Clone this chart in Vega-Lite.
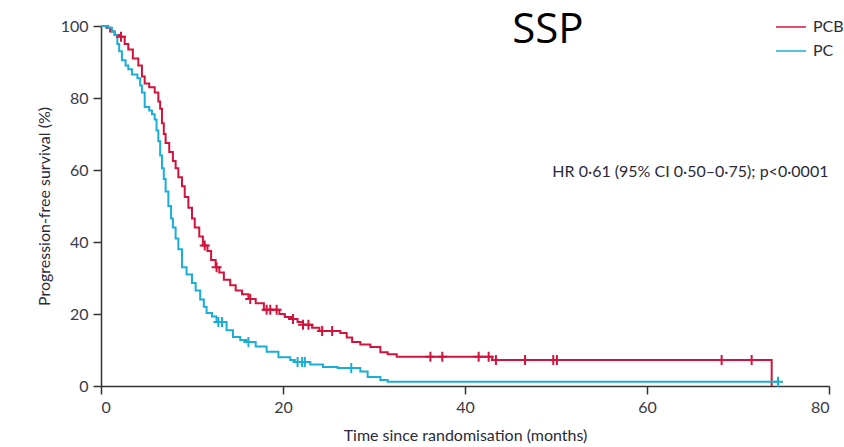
{
  "$schema": "https://vega.github.io/schema/vega-lite/v6.json",
  "width": 728,
  "height": 360,
  "autosize": {"type": "none"},
  "padding": {"left": 101, "top": 26, "right": 15, "bottom": 61},
  "background": "white",
  "config": {
    "view": {"stroke": null},
    "font": "Lato",
    "axis": {
      "grid": false,
      "domainColor": "#333333",
      "domainWidth": 1.5,
      "tickColor": "#333333",
      "tickWidth": 1.5,
      "tickSize": 8,
      "labelFont": "Lato",
      "labelFontSize": 16,
      "labelColor": "#3a3a48",
      "titleFont": "Lato",
      "titleFontSize": 16,
      "titleFontWeight": "normal",
      "titleColor": "#2a2a38"
    }
  },
  "datasets": {
    "curve": [
      {"arm": "PCB", "t": 0, "s": 100}, {"arm": "PCB", "t": 0.6, "s": 99.5}, {"arm": "PCB", "t": 1.0, "s": 98.5}, {"arm": "PCB", "t": 1.5, "s": 97.5}, {"arm": "PCB", "t": 2.2, "s": 97},
      {"arm": "PCB", "t": 2.6, "s": 95}, {"arm": "PCB", "t": 3.0, "s": 93.5}, {"arm": "PCB", "t": 3.5, "s": 91}, {"arm": "PCB", "t": 4.1, "s": 89}, {"arm": "PCB", "t": 4.5, "s": 86},
      {"arm": "PCB", "t": 4.8, "s": 84}, {"arm": "PCB", "t": 5.3, "s": 83}, {"arm": "PCB", "t": 5.9, "s": 81.5}, {"arm": "PCB", "t": 6.3, "s": 79}, {"arm": "PCB", "t": 6.5, "s": 77},
      {"arm": "PCB", "t": 6.7, "s": 73}, {"arm": "PCB", "t": 6.9, "s": 70}, {"arm": "PCB", "t": 7.1, "s": 67.5}, {"arm": "PCB", "t": 7.5, "s": 65}, {"arm": "PCB", "t": 7.9, "s": 62.5},
      {"arm": "PCB", "t": 8.2, "s": 60.5}, {"arm": "PCB", "t": 8.5, "s": 58}, {"arm": "PCB", "t": 8.9, "s": 55.5}, {"arm": "PCB", "t": 9.2, "s": 52.5}, {"arm": "PCB", "t": 9.6, "s": 49.5},
      {"arm": "PCB", "t": 10.0, "s": 46.5}, {"arm": "PCB", "t": 10.3, "s": 44}, {"arm": "PCB", "t": 10.8, "s": 41.5}, {"arm": "PCB", "t": 11.2, "s": 39}, {"arm": "PCB", "t": 11.7, "s": 37.5},
      {"arm": "PCB", "t": 12.1, "s": 35}, {"arm": "PCB", "t": 12.6, "s": 33}, {"arm": "PCB", "t": 13.0, "s": 31.5}, {"arm": "PCB", "t": 13.5, "s": 29.5}, {"arm": "PCB", "t": 14.2, "s": 28},
      {"arm": "PCB", "t": 14.8, "s": 26.5}, {"arm": "PCB", "t": 15.5, "s": 25.5}, {"arm": "PCB", "t": 16.2, "s": 24.2}, {"arm": "PCB", "t": 17.0, "s": 23}, {"arm": "PCB", "t": 17.9, "s": 21.2},
      {"arm": "PCB", "t": 19.6, "s": 20}, {"arm": "PCB", "t": 20.2, "s": 19.2}, {"arm": "PCB", "t": 21.0, "s": 18.6}, {"arm": "PCB", "t": 21.6, "s": 17.8}, {"arm": "PCB", "t": 22.2, "s": 17},
      {"arm": "PCB", "t": 23.2, "s": 16.2}, {"arm": "PCB", "t": 24.0, "s": 15.3}, {"arm": "PCB", "t": 26.3, "s": 14.7}, {"arm": "PCB", "t": 27.0, "s": 13.5}, {"arm": "PCB", "t": 27.6, "s": 12.2},
      {"arm": "PCB", "t": 28.5, "s": 11.5}, {"arm": "PCB", "t": 29.6, "s": 10.8}, {"arm": "PCB", "t": 30.7, "s": 9.4}, {"arm": "PCB", "t": 31.5, "s": 8.8}, {"arm": "PCB", "t": 32.5, "s": 8.1},
      {"arm": "PCB", "t": 43.0, "s": 7.2}, {"arm": "PCB", "t": 73.7, "s": 0},
      {"arm": "PC", "t": 0, "s": 100}, {"arm": "PC", "t": 0.8, "s": 99.5}, {"arm": "PC", "t": 1.2, "s": 98.5}, {"arm": "PC", "t": 1.5, "s": 97.5}, {"arm": "PC", "t": 1.8, "s": 95},
      {"arm": "PC", "t": 2.0, "s": 93}, {"arm": "PC", "t": 2.3, "s": 90.5}, {"arm": "PC", "t": 2.7, "s": 89}, {"arm": "PC", "t": 3.0, "s": 88}, {"arm": "PC", "t": 3.4, "s": 86.5},
      {"arm": "PC", "t": 4.0, "s": 85.5}, {"arm": "PC", "t": 4.3, "s": 83.5}, {"arm": "PC", "t": 4.5, "s": 81.5}, {"arm": "PC", "t": 4.8, "s": 77.5}, {"arm": "PC", "t": 5.3, "s": 76.5},
      {"arm": "PC", "t": 5.6, "s": 75.5}, {"arm": "PC", "t": 5.9, "s": 74}, {"arm": "PC", "t": 6.1, "s": 71}, {"arm": "PC", "t": 6.3, "s": 68}, {"arm": "PC", "t": 6.5, "s": 64},
      {"arm": "PC", "t": 6.7, "s": 60.5}, {"arm": "PC", "t": 6.9, "s": 57.5}, {"arm": "PC", "t": 7.1, "s": 54}, {"arm": "PC", "t": 7.4, "s": 50}, {"arm": "PC", "t": 7.7, "s": 46.5},
      {"arm": "PC", "t": 7.9, "s": 44}, {"arm": "PC", "t": 8.2, "s": 41}, {"arm": "PC", "t": 8.5, "s": 38}, {"arm": "PC", "t": 8.9, "s": 33}, {"arm": "PC", "t": 9.4, "s": 31},
      {"arm": "PC", "t": 10.0, "s": 28.6}, {"arm": "PC", "t": 10.4, "s": 26.5}, {"arm": "PC", "t": 10.9, "s": 24}, {"arm": "PC", "t": 11.3, "s": 22}, {"arm": "PC", "t": 11.6, "s": 20.3},
      {"arm": "PC", "t": 12.2, "s": 19.3}, {"arm": "PC", "t": 12.7, "s": 17.8}, {"arm": "PC", "t": 13.8, "s": 15.5}, {"arm": "PC", "t": 14.5, "s": 13.6}, {"arm": "PC", "t": 15.3, "s": 12.8},
      {"arm": "PC", "t": 16.0, "s": 12.2}, {"arm": "PC", "t": 17.0, "s": 11}, {"arm": "PC", "t": 18.2, "s": 9.5}, {"arm": "PC", "t": 19.5, "s": 8}, {"arm": "PC", "t": 20.8, "s": 7.2},
      {"arm": "PC", "t": 21.3, "s": 6.7}, {"arm": "PC", "t": 23.0, "s": 6.0}, {"arm": "PC", "t": 24.4, "s": 5.3}, {"arm": "PC", "t": 26.0, "s": 5}, {"arm": "PC", "t": 28.5, "s": 4},
      {"arm": "PC", "t": 29.3, "s": 2.5}, {"arm": "PC", "t": 30.7, "s": 1.7}, {"arm": "PC", "t": 31.5, "s": 1.2}, {"arm": "PC", "t": 74.4, "s": 1.2}
    ],
    "cens": [
      {"arm": "PCB", "t": 2.2, "s": 97}, {"arm": "PCB", "t": 11.4, "s": 39}, {"arm": "PCB", "t": 12.7, "s": 33}, {"arm": "PCB", "t": 16.4, "s": 24.2},
      {"arm": "PCB", "t": 18.2, "s": 21.2}, {"arm": "PCB", "t": 18.6, "s": 21.2}, {"arm": "PCB", "t": 19.3, "s": 21.2}, {"arm": "PCB", "t": 21.1, "s": 18.6},
      {"arm": "PCB", "t": 22.2, "s": 17}, {"arm": "PCB", "t": 22.8, "s": 17}, {"arm": "PCB", "t": 24.3, "s": 15.3}, {"arm": "PCB", "t": 25.4, "s": 15.3},
      {"arm": "PCB", "t": 36.2, "s": 8.1}, {"arm": "PCB", "t": 37.5, "s": 8.1}, {"arm": "PCB", "t": 41.5, "s": 8.1}, {"arm": "PCB", "t": 42.6, "s": 8.1},
      {"arm": "PCB", "t": 43.4, "s": 7.2}, {"arm": "PCB", "t": 46.6, "s": 7.2}, {"arm": "PCB", "t": 49.7, "s": 7.2}, {"arm": "PCB", "t": 50.1, "s": 7.2},
      {"arm": "PCB", "t": 68.2, "s": 7.2}, {"arm": "PCB", "t": 71.5, "s": 7.2},
      {"arm": "PC", "t": 12.9, "s": 17.8}, {"arm": "PC", "t": 13.3, "s": 17.8}, {"arm": "PC", "t": 16.2, "s": 12.2}, {"arm": "PC", "t": 21.6, "s": 6.7},
      {"arm": "PC", "t": 22.1, "s": 6.7}, {"arm": "PC", "t": 22.4, "s": 6.7}, {"arm": "PC", "t": 27.5, "s": 5}, {"arm": "PC", "t": 74.4, "s": 1.2}
    ],
    "note": [
      {"t": 49.6, "s": 59.4, "label": "HR 0·61 (95% CI 0·50–0·75); p<0·0001"}
    ],
    "heading": [
      {"t": 49.1, "s": 95.3, "label": "SSP"}
    ]
  },
  "layer": [
    {
      "data": {"name": "curve"},
      "mark": {"type": "line", "interpolate": "step-after", "strokeWidth": 2},
      "encoding": {
        "x": {
          "field": "t", "type": "quantitative",
          "scale": {"domain": [0, 80], "nice": false},
          "axis": {"values": [0, 20, 40, 60, 80], "title": "Time since randomisation (months)", "labelPadding": 5, "titlePadding": 12}
        },
        "y": {
          "field": "s", "type": "quantitative",
          "scale": {"domain": [0, 100], "nice": false},
          "axis": {"values": [0, 20, 40, 60, 80, 100], "title": "Progression-free survival (%)", "labelPadding": 5, "titlePadding": 8}
        },
        "color": {
          "field": "arm", "type": "nominal",
          "scale": {"domain": ["PCB", "PC"], "range": ["#d2143c", "#1aaed4"]},
          "legend": {
            "orient": "none", "legendX": 674, "legendY": -15, "title": null,
            "symbolType": "stroke", "symbolSize": 900, "symbolStrokeWidth": 1.5,
            "labelFont": "Lato", "labelFontSize": 16, "labelColor": "#2a2a38",
            "labelOffset": 6, "rowPadding": -12
          }
        }
      }
    },
    {
      "data": {"name": "cens"},
      "mark": {"type": "point", "shape": "M-1,0L1,0M0,-1L0,1", "filled": false, "size": 100, "strokeWidth": 2, "opacity": 1},
      "encoding": {
        "x": {"field": "t", "type": "quantitative"},
        "y": {"field": "s", "type": "quantitative"},
        "color": {"field": "arm", "type": "nominal", "legend": null}
      }
    },
    {
      "data": {"name": "note"},
      "mark": {"type": "text", "align": "left", "baseline": "middle", "fontSize": 16, "font": "Lato", "color": "#2a2a38"},
      "encoding": {
        "x": {"field": "t", "type": "quantitative"},
        "y": {"field": "s", "type": "quantitative"},
        "text": {"field": "label"}
      }
    },
    {
      "data": {"name": "heading"},
      "mark": {"type": "text", "align": "center", "baseline": "alphabetic", "fontSize": 42, "font": "Open Sans", "color": "#000000"},
      "encoding": {
        "x": {"field": "t", "type": "quantitative"},
        "y": {"field": "s", "type": "quantitative"},
        "text": {"field": "label"}
      }
    }
  ]
}
